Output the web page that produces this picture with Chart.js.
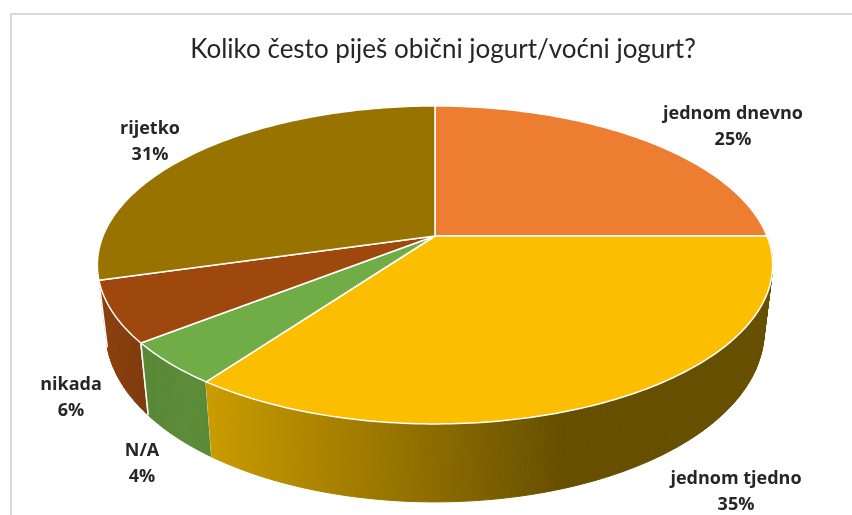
<!DOCTYPE html>
<html>
<head>
<meta charset="utf-8">
<script src="https://cdn.jsdelivr.net/npm/chart.js@4"></script>
<style>
  html, body { margin: 0; padding: 0; background: #fff; overflow: hidden; }
  #wrap { position: relative; width: 852px; height: 515px; }
  #frame { position: absolute; left: 10px; top: 13px; right: 0; bottom: 0; border-left: 2px solid #d9d9d9; border-top: 2px solid #d9d9d9; }
  canvas { position: absolute; left: 0; top: 0; }
</style>
</head>
<body>
<div id="wrap">
  <div id="frame"></div>
  <canvas id="myChart" width="852" height="515"></canvas>
</div>
<script>
// slice sizes (the printed percents are kept apart, they sum to 101)
var categories = ['jednom dnevno', 'jednom tjedno', 'N/A', 'nikada', 'rijetko'];
var sliceValues = [25, 35, 4.4, 6.2, 29.4];
var percentLabels = ['25%', '35%', '4%', '6%', '31%'];

var topColors = ['#ED7D31', '#FBBE00', '#70AD47', '#9E480E', '#997300'];
// only the slices that face the viewer have a wall
var wallStops = [
  null,
  ['#c99b00', '#8f6e00', '#664f00'],
  ['#588736', '#5c8c38', '#5a8a37'],
  ['#8a3f0d', '#7e3a0c'],
  null
];
// label centres, first line (second line is 26px lower)
var labelAnchors = [[733, 114], [736, 479], [142, 451], [71, 385], [150, 129]];

// perspective of the disc: near edge is bigger than far edge
var cx = 435, cy = 236, rx = 332, ry = 153.7, persp = 0.182;
var wallShrink = 0.975, wallBase = 63, wallFront = 15;

function rimPoint(a) {
  var u = Math.cos(a), v = Math.sin(a);
  var w = 1 / (1 - persp * v);
  return { x: cx + rx * u * w, y: cy + ry * v * w, v: v };
}
function basePoint(a) {
  var p = rimPoint(a);
  return { x: cx + (p.x - cx) * wallShrink, y: p.y + wallBase + wallFront * p.v };
}
function sampleAngles(start, end) {
  var out = [];
  var n = Math.max(2, Math.ceil((end - start) * 60));
  for (var i = 0; i <= n; i++) out.push(start + (end - start) * i / n);
  return out;
}

var disc3d = {
  id: 'disc3d',
  beforeDatasetDraw: function (chart) {
    var ctx = chart.ctx;
    var arcs = chart.getDatasetMeta(0).data;
    ctx.save();
    ctx.lineJoin = 'round';
    ctx.lineWidth = 1.5;

    // walls, swept step by step so the silhouette sides get filled too
    [3, 2, 1].forEach(function (i) {
      var angles = sampleAngles(arcs[i].startAngle, arcs[i].endAngle);
      var rim = angles.map(rimPoint);
      var base = angles.map(basePoint);
      var xs = base.map(function (p) { return p.x; });
      var stops = wallStops[i];
      var fill = ctx.createLinearGradient(Math.min.apply(null, xs), 0, i === 1 ? 560 : Math.max.apply(null, xs), 0);
      stops.forEach(function (c, k) {
        fill.addColorStop(stops.length === 3 && k === 1 ? 0.61 : k / (stops.length - 1), c);
      });
      ctx.fillStyle = fill;
      ctx.strokeStyle = fill;
      ctx.lineWidth = 1;
      for (var k = 0; k < rim.length - 1; k++) {
        ctx.beginPath();
        ctx.moveTo(rim[k].x, rim[k].y);
        ctx.lineTo(rim[k + 1].x, rim[k + 1].y);
        ctx.lineTo(base[k + 1].x, base[k + 1].y);
        ctx.lineTo(base[k].x, base[k].y);
        ctx.closePath();
        ctx.fill();
        ctx.stroke();
      }
      // white seams between neighbouring walls
      ctx.strokeStyle = '#fff';
      ctx.lineWidth = 1.5;
      [0, rim.length - 1].forEach(function (k) {
        if (i === 1 && k !== 0) return;
        ctx.beginPath();
        ctx.moveTo(rim[k].x, rim[k].y);
        ctx.lineTo(base[k].x, base[k].y);
        ctx.stroke();
      });
    });

    // top faces
    ctx.strokeStyle = '#fff';
    ctx.lineWidth = 1.5;
    arcs.forEach(function (arc) {
      ctx.beginPath();
      ctx.moveTo(cx, cy);
      sampleAngles(arc.startAngle, arc.endAngle).forEach(function (a) {
        var p = rimPoint(a);
        ctx.lineTo(p.x, p.y);
      });
      ctx.closePath();
      ctx.fillStyle = arc.options.backgroundColor;
      ctx.fill();
      ctx.stroke();
    });
    ctx.restore();
    return false;
  },
  afterDraw: function (chart) {
    var ctx = chart.ctx;
    ctx.save();
    ctx.font = 'bold 18px "Open Sans"';
    ctx.fillStyle = '#262626';
    ctx.textAlign = 'center';
    ctx.textBaseline = 'middle';
    categories.forEach(function (name, i) {
      ctx.fillText(name, labelAnchors[i][0], labelAnchors[i][1]);
      ctx.fillText(percentLabels[i], labelAnchors[i][0], labelAnchors[i][1] + 26);
    });
    ctx.restore();
  }
};

var ctx = document.getElementById('myChart').getContext('2d');
var myChart = new Chart(ctx, {
  type: 'pie',
  data: {
    labels: categories,
    datasets: [{
      data: sliceValues,
      backgroundColor: topColors,
      borderColor: '#fff'
    }]
  },
  options: {
    responsive: false,
    animation: false,
    layout: { padding: { left: 34 } },
    plugins: {
      legend: { display: false },
      tooltip: { enabled: false },
      title: {
        display: true,
        text: 'Koliko često piješ obični jogurt/voćni jogurt?',
        color: '#262626',
        font: { family: 'Lato', size: 26, weight: 'normal' },
        padding: { top: 34, bottom: 10 }
      }
    }
  },
  plugins: [disc3d]
});
</script>
</body>
</html>
